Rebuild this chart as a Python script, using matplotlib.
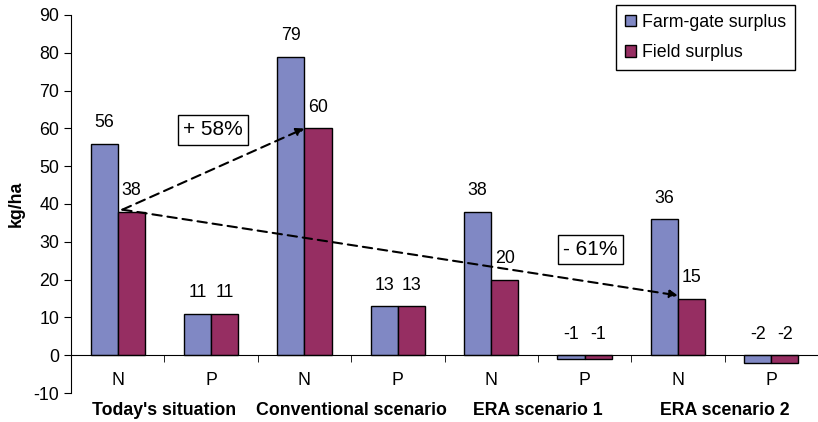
import matplotlib
matplotlib.use("Agg")
import matplotlib.pyplot as plt
from matplotlib.transforms import blended_transform_factory

plt.rcParams['font.family'] = ['Liberation Sans', 'DejaVu Sans']
plt.rcParams['axes.unicode_minus'] = False

# data
scenarios = ["Today's situation", "Conventional scenario", "ERA scenario 1", "ERA scenario 2"]
nutrients = ["N", "P"]
farm_gate = [56, 11, 79, 13, 38, -1, 36, -2]
field = [38, 11, 60, 13, 20, -1, 15, -2]
series_names = ["Farm-gate surplus", "Field surplus"]
colors = ["#8088C4", "#962E62"]

fs = 12.8

fig = plt.figure(figsize=(8.18, 4.22), dpi=100)
ax = fig.add_axes([71/818, 1-393/422, 747/818, 378/422])

x = list(range(len(farm_gate)))
w = 0.29
b1 = ax.bar([i - w/2 for i in x], farm_gate, w, color=colors[0], edgecolor="black", linewidth=1, label=series_names[0])
b2 = ax.bar([i + w/2 for i in x], field, w, color=colors[1], edgecolor="black", linewidth=1, label=series_names[1])

for bars, vals in ((b1, farm_gate), (b2, field)):
    for bar, v in zip(bars, vals):
        ax.annotate(str(v), (bar.get_x() + bar.get_width()/2, max(v, 0)),
                    xytext=(0, 21), textcoords="offset pixels",
                    ha="center", va="center", fontsize=fs)

ax.set_xlim(-0.5, len(x) - 0.5)
ax.set_ylim(-10, 90)
ax.set_yticks(range(-10, 91, 10))
ax.spines['top'].set_visible(False)
ax.spines['right'].set_visible(False)
ax.spines['bottom'].set_position(('data', 0))
ax.tick_params(axis='y', direction='out', length=5, labelsize=fs)

ax.set_xticks(x)
ax.set_xticklabels(nutrients * len(scenarios), fontsize=fs)
ax.set_xticks([i + 0.5 for i in x[:-1]], minor=True)
ax.tick_params(axis='x', which='major', length=0, pad=12)
ax.tick_params(axis='x', which='minor', direction='out', length=5)
ax.set_ylabel("kg/ha", fontsize=fs, fontweight="bold", labelpad=6)

tr = blended_transform_factory(ax.transData, ax.transAxes)
for k, name in enumerate(scenarios):
    ax.text(2*k + 0.5, -0.045, name, transform=tr, ha="center", va="center",
            fontsize=fs, fontweight="bold")

# change arrows, from today's field N to conventional / ERA 2
start = (0.05, 38.5)
arrow = dict(arrowstyle="-|>", linestyle=(0, (4.5, 2.8)), color="black",
             lw=1.5, mutation_scale=12, shrinkA=0, shrinkB=0)
ax.annotate("", xy=(2.0, 60), xytext=start, arrowprops=arrow)
ax.annotate("", xy=(6.0, 15.8), xytext=start, arrowprops=arrow)
box = dict(boxstyle="square,pad=0.25", facecolor="white", edgecolor="black", linewidth=1)
ax.text(1.02, 59.6, "+ 58%", ha="center", va="center", fontsize=15, bbox=box)
ax.text(5.06, 28.0, "- 61%", ha="center", va="center", fontsize=15, bbox=box)

leg = ax.legend(loc="upper right", bbox_to_anchor=(795/818, 1-5/422),
                bbox_transform=fig.transFigure, borderaxespad=0, fontsize=fs,
                fancybox=False, framealpha=1, edgecolor="black",
                handlelength=0.6, handleheight=0.6, handletextpad=0.35,
                labelspacing=0.75, borderpad=0.5)
leg.get_frame().set_linewidth(1)

fig.savefig("out.png", dpi=100)
